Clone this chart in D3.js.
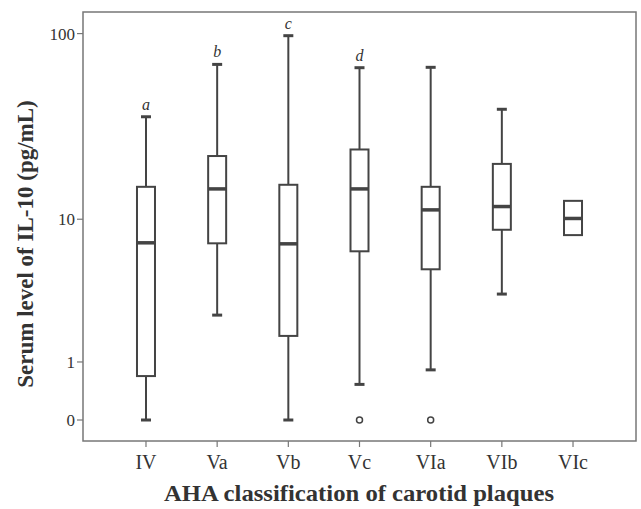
<!DOCTYPE html>
<html lang="en">
<head>
    <meta charset="UTF-8">
    <title>IL-10 by AHA class</title>
    <script src="https://d3js.org/d3.v7.min.js"></script>
    <style>
        body { margin: 0; background: #fff; }
        text { font-family: "Liberation Serif", "DejaVu Serif", serif; fill: #333; }
        .axis-title { font-size: 23px; font-weight: bold; }
        .tick-label { font-size: 17px; }
        .cat-label { font-size: 20px; }
        .letter { font-size: 16px; font-style: italic; }
    </style>
</head>
<body>
    <svg id="chart" width="641" height="509"></svg>

    <script>
        // data (pg/mL)
        var categories = ["IV", "Va", "Vb", "Vc", "VIa", "VIb", "VIc"];
        var whiskerLow  = [0,    2.5,  0,    0.53, 0.82, 3.5,  8.1];
        var q1          = [0.69, 7.25, 1.73, 6.5,  5.05, 8.7,  8.1];
        var medians     = [7.3,  14.8, 7.2,  14.8, 11.3, 11.8, 10.1];
        var q3          = [15.2, 22.4, 15.6, 24.3, 15.2, 20.3, 12.7];
        var whiskerHigh = [36.4, 68.9, 97.5, 66.2, 66.5, 39.9, 12.7];
        var outliers    = [[], [], [], [0], [0], [], []];
        var letters     = ["a", "b", "c", "d", "", "", ""];
        var yTicks = [0, 1, 10, 100];

        var frame = {left: 83, right: 636, top: 12, bottom: 441};

        var svg = d3.select("#chart");

        var x = d3.scalePoint()
            .domain(categories)
            .range([frame.left, frame.right])
            .padding(0.885);

        // log(1 + v) axis
        var y = d3.scaleSymlog()
            .constant(1)
            .domain([-0.285, 129.7])
            .range([frame.bottom, frame.top]);

        var boxW = 18, capW = 10;
        var ink = "#444";

        svg.append("rect")
            .attr("x", frame.left)
            .attr("y", frame.top)
            .attr("width", frame.right - frame.left)
            .attr("height", frame.bottom - frame.top)
            .attr("fill", "none")
            .attr("stroke", "#777")
            .attr("stroke-width", 1.5);

        // y ticks
        yTicks.forEach(function(t) {
            svg.append("line")
                .attr("x1", frame.left - 6).attr("x2", frame.left)
                .attr("y1", y(t)).attr("y2", y(t))
                .attr("stroke", "#777").attr("stroke-width", 1.2);
            svg.append("text")
                .attr("class", "tick-label")
                .attr("x", frame.left - 8)
                .attr("y", y(t))
                .attr("dy", "0.35em")
                .attr("text-anchor", "end")
                .text(t);
        });

        // x ticks
        categories.forEach(function(c) {
            svg.append("line")
                .attr("x1", x(c)).attr("x2", x(c))
                .attr("y1", frame.bottom).attr("y2", frame.bottom + 6)
                .attr("stroke", "#777").attr("stroke-width", 1.2);
            svg.append("text")
                .attr("class", "cat-label")
                .attr("x", x(c))
                .attr("y", 469)
                .attr("text-anchor", "middle")
                .text(c);
        });

        var g = svg.selectAll(".box")
            .data(categories)
            .enter().append("g")
            .attr("class", "box");

        g.each(function(c, i) {
            var s = d3.select(this);
            var cx = x(c);

            if (whiskerHigh[i] > q3[i]) {
                s.append("line")
                    .attr("x1", cx).attr("x2", cx)
                    .attr("y1", y(q3[i])).attr("y2", y(whiskerHigh[i]))
                    .attr("stroke", ink).attr("stroke-width", 2);
                s.append("line")
                    .attr("x1", cx - capW / 2).attr("x2", cx + capW / 2)
                    .attr("y1", y(whiskerHigh[i])).attr("y2", y(whiskerHigh[i]))
                    .attr("stroke", ink).attr("stroke-width", 3);
            }
            if (whiskerLow[i] < q1[i]) {
                s.append("line")
                    .attr("x1", cx).attr("x2", cx)
                    .attr("y1", y(q1[i])).attr("y2", y(whiskerLow[i]))
                    .attr("stroke", ink).attr("stroke-width", 2);
                s.append("line")
                    .attr("x1", cx - capW / 2).attr("x2", cx + capW / 2)
                    .attr("y1", y(whiskerLow[i])).attr("y2", y(whiskerLow[i]))
                    .attr("stroke", ink).attr("stroke-width", 3);
            }

            s.append("rect")
                .attr("x", cx - boxW / 2)
                .attr("y", y(q3[i]))
                .attr("width", boxW)
                .attr("height", y(q1[i]) - y(q3[i]))
                .attr("fill", "#fff")
                .attr("stroke", ink)
                .attr("stroke-width", 2);

            s.append("line")
                .attr("x1", cx - boxW / 2).attr("x2", cx + boxW / 2)
                .attr("y1", y(medians[i])).attr("y2", y(medians[i]))
                .attr("stroke", ink).attr("stroke-width", 3.5);

            outliers[i].forEach(function(o) {
                s.append("circle")
                    .attr("cx", cx).attr("cy", y(o))
                    .attr("r", 3)
                    .attr("fill", "none")
                    .attr("stroke", ink)
                    .attr("stroke-width", 1.5);
            });

            if (letters[i]) {
                s.append("text")
                    .attr("class", "letter")
                    .attr("x", cx)
                    .attr("y", y(whiskerHigh[i]) - 7)
                    .attr("text-anchor", "middle")
                    .text(letters[i]);
            }
        });

        svg.append("text")
            .attr("class", "axis-title")
            .attr("x", 359)
            .attr("y", 501)
            .attr("text-anchor", "middle")
            .attr("textLength", 390)
            .attr("lengthAdjust", "spacingAndGlyphs")
            .text("AHA classification of carotid plaques");

        svg.append("text")
            .attr("class", "axis-title")
            .attr("transform", "translate(33," + 244 + ") rotate(-90)")
            .attr("text-anchor", "middle")
            .text("Serum level of IL-10 (pg/mL)");
    </script>
</body>
</html>
